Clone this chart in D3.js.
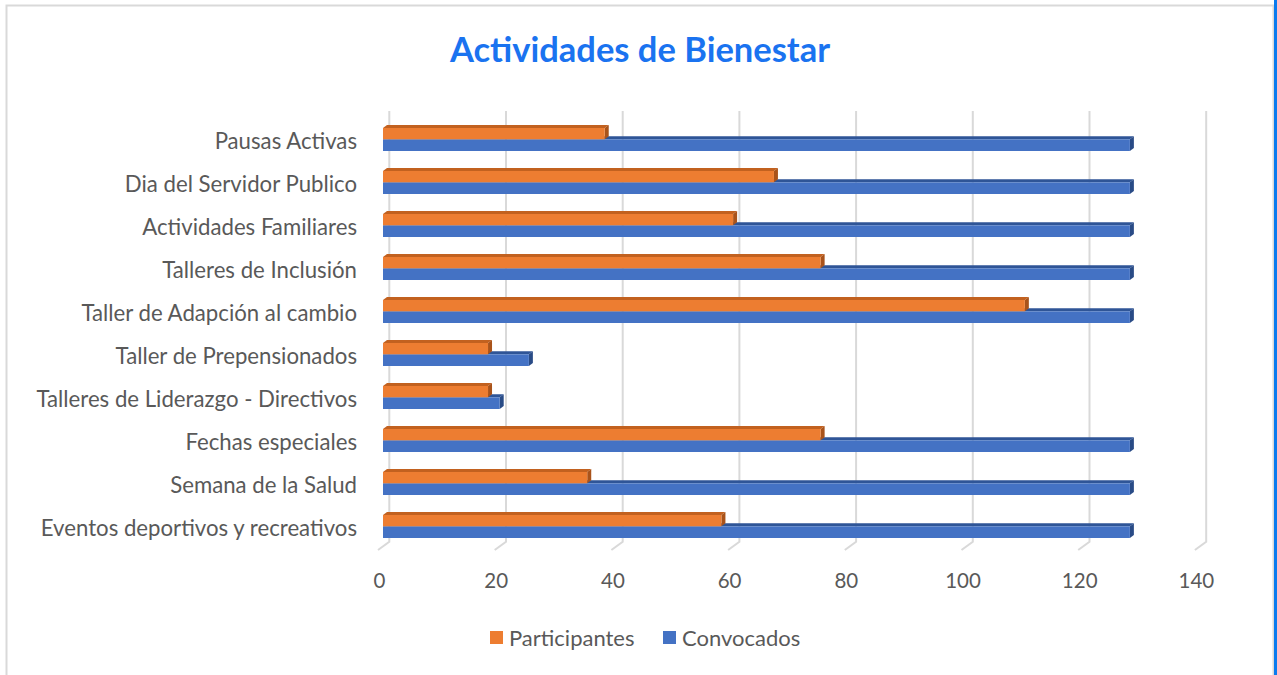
<!DOCTYPE html>
<html>
<head>
<meta charset="utf-8">
<script src="https://cdn.jsdelivr.net/npm/d3@7"></script>
<style>
  body { margin: 0; background: #fff; }
  text { font-family: Lato, "Open Sans", sans-serif; }
</style>
</head>
<body>
<div id="chart"></div>
<script>
const W = 1277, H = 675;

// data, top to bottom as drawn
const categories = [
  "Pausas Activas",
  "Dia del Servidor Publico",
  "Actividades Familiares",
  "Talleres de Inclusión",
  "Taller de Adapción al cambio",
  "Taller de Prepensionados",
  "Talleres de Liderazgo - Directivos",
  "Fechas especiales",
  "Semana de la Salud",
  "Eventos deportivos y recreativos"
];
const participantes = [38, 67, 60, 75, 110, 18, 18, 75, 35, 58];
const convocados = [128, 128, 128, 128, 128, 25, 20, 128, 128, 128];
const xTicks = [0, 20, 40, 60, 80, 100, 120, 140];
const seriesNames = ["Participantes", "Convocados"];

const orange = {face: "#ed7d31", top: "#c2611f", side: "#a9531a"};
const blue = {face: "#4472c4", top: "#2f5597", side: "#294b86"};

// 3d offsets
const depth = {dx: 4, dy: -3};
const wall = {dx: 6.3, dy: -8.3};

const svg = d3.select("#chart").append("svg")
  .attr("width", W)
  .attr("height", H);

// frame
svg.append("rect")
  .attr("x", 6.5).attr("y", 5.5)
  .attr("width", 1267).attr("height", 700)
  .attr("fill", "#fff")
  .attr("stroke", "#d9d9d9")
  .attr("stroke-width", 2);
svg.append("rect")
  .attr("x", 1274).attr("y", 0)
  .attr("width", 3).attr("height", H)
  .attr("fill", "#0a7bef");

// title
svg.append("text")
  .attr("x", 640).attr("y", 62)
  .attr("text-anchor", "middle")
  .attr("font-size", 34.5)
  .attr("font-weight", "bold")
  .attr("fill", "#1a73f0")
  .text("Actividades de Bienestar");

// scales (front plane)
const x = d3.scaleLinear().domain([0, 140]).range([383, 383 + 7 * 116.7]);
const y = d3.scaleBand().domain(categories).range([117.8, 547.8]);

const floorY = 550;

// gridlines on back wall with slanted floor part
const grid = svg.append("g");
xTicks.forEach(t => {
  const bx = x(t) + wall.dx, by = floorY + wall.dy;
  grid.append("path")
    .attr("d", `M${bx},111 L${bx},${by} L${x(t) - 5},${floorY}`)
    .attr("fill", "none")
    .attr("stroke", "#d9d9d9")
    .attr("stroke-width", 2);
});

// x axis labels
svg.append("g")
  .selectAll("text")
  .data(xTicks)
  .join("text")
  .attr("x", d => x(d) - 3.5)
  .attr("y", 588)
  .attr("text-anchor", "middle")
  .attr("font-size", 20.5)
  .attr("fill", "#595959")
  .text(d => d);

// category labels
svg.append("g")
  .selectAll("text")
  .data(categories)
  .join("text")
  .attr("x", 357)
  .attr("y", d => y(d) + y.bandwidth() / 2 + 10)
  .attr("text-anchor", "end")
  .attr("font-size", 22.2)
  .attr("fill", "#595959")
  .text(d => d);

function bar3d(g, x0, x1, y0, y1, col) {
  const {dx, dy} = depth;
  g.append("path")
    .attr("d", `M${x0},${y0} L${x0 + dx},${y0 + dy} L${x1 + dx},${y0 + dy} L${x1},${y0} Z`)
    .attr("fill", col.top);
  g.append("path")
    .attr("d", `M${x1},${y0} L${x1 + dx},${y0 + dy} L${x1 + dx},${y1 + dy} L${x1},${y1} Z`)
    .attr("fill", col.side);
  g.append("rect")
    .attr("x", x0).attr("y", y0)
    .attr("width", x1 - x0).attr("height", y1 - y0)
    .attr("fill", col.face);
}

const bars = svg.append("g");
categories.forEach((c, i) => {
  const yc = y(c) + y.bandwidth() / 2;
  const g = bars.append("g");
  bar3d(g, x(0), x(convocados[i]), yc, yc + 11.7, blue);
  bar3d(g, x(0), x(participantes[i]), yc - 11.3, yc, orange);
});

// legend
const legend = svg.append("g");
const legendItems = [
  {name: seriesNames[0], x: 490, col: orange.face},
  {name: seriesNames[1], x: 663, col: blue.face}
];
legendItems.forEach(d => {
  legend.append("rect")
    .attr("x", d.x).attr("y", 631)
    .attr("width", 13).attr("height", 13)
    .attr("fill", d.col);
  legend.append("text")
    .attr("x", d.x + 19).attr("y", 646)
    .attr("font-size", 22)
    .attr("fill", "#595959")
    .text(d.name);
});
</script>
</body>
</html>
